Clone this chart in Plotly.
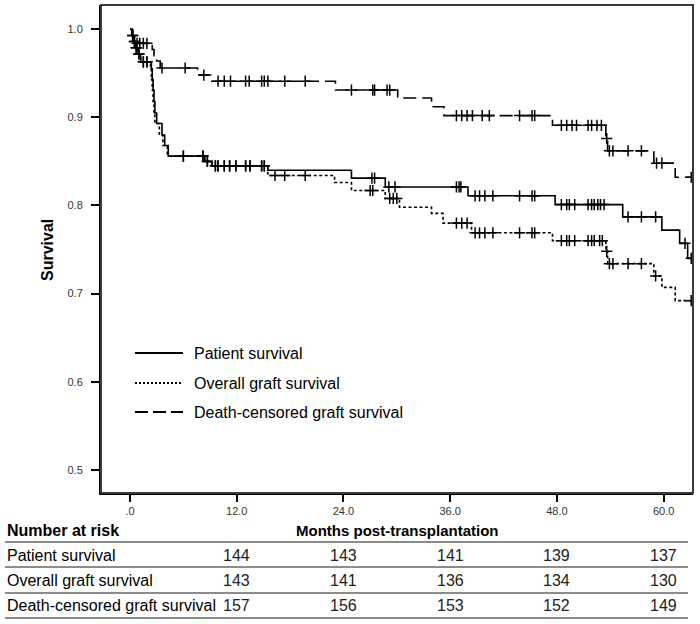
import numpy as np
import plotly.graph_objects as go

# ---------------- data ----------------
series_names = ["Patient survival", "Overall graft survival", "Death-censored graft survival"]

ps_times = [0.2, 0.4, 0.6, 0.9, 1.2, 2.4, 2.5, 2.6, 2.7, 2.8, 3.0, 3.6, 3.9, 4.3, 8.4, 9.2,
            15.5, 24.9, 28.7, 38.0, 47.8, 55.4, 59.8, 61.8, 62.7]
ps_surv = [0.993, 0.986, 0.979, 0.972, 0.963, 0.955, 0.943, 0.931, 0.918, 0.905, 0.893, 0.880,
           0.868, 0.856, 0.850, 0.845, 0.840, 0.831, 0.821, 0.811, 0.801, 0.787, 0.772, 0.757, 0.740]
ps_censor = [0.3, 0.5, 0.7, 1.0, 1.5, 1.9, 6.0, 8.2, 8.7, 9.6, 9.9, 10.6, 11.2, 11.9, 13.0, 13.5,
             14.8, 15.1, 27.2, 27.5, 29.1, 29.8, 36.7, 37.0, 37.2, 38.8, 39.3, 39.9, 40.8, 43.8,
             45.2, 45.5, 48.5, 49.1, 49.4, 50.0, 51.5, 51.9, 52.2, 52.6, 52.9, 53.3, 56.0, 57.5,
             59.1, 62.4, 63.1]

og_times = [0.2, 0.4, 0.6, 0.9, 1.2, 2.3, 2.4, 2.5, 2.6, 2.7, 2.8, 3.3, 3.7, 4.2, 8.4, 9.2,
            15.5, 23.0, 24.9, 28.7, 30.3, 33.9, 35.2, 38.4, 47.5, 53.5, 53.7, 58.9, 59.8, 61.3]
og_surv = [0.993, 0.986, 0.979, 0.972, 0.963, 0.955, 0.943, 0.931, 0.918, 0.905, 0.893, 0.880,
           0.868, 0.856, 0.850, 0.845, 0.834, 0.826, 0.817, 0.808, 0.798, 0.791, 0.780, 0.769,
           0.760, 0.748, 0.734, 0.720, 0.707, 0.692]
og_censor = [0.3, 0.5, 0.7, 1.0, 1.5, 1.9, 6.0, 8.2, 8.7, 9.6, 9.9, 10.6, 11.2, 11.9, 13.0, 13.5,
             14.8, 15.1, 16.3, 17.4, 19.7, 27.0, 27.3, 29.2, 29.6, 30.0, 36.7, 37.3, 37.9, 38.8,
             39.3, 39.9, 40.8, 43.8, 45.2, 45.5, 48.5, 49.1, 49.4, 50.0, 51.5, 51.9, 52.2, 52.8,
             53.1, 53.6, 53.9, 54.3, 56.0, 57.5, 59.1, 63.1]

dc_times = [0.3, 0.5, 2.5, 2.7, 3.0, 3.4, 7.6, 9.1, 23.1, 30.1, 33.9, 35.3, 47.5, 53.5, 53.7,
            58.9, 61.3]
dc_surv = [0.992, 0.984, 0.977, 0.970, 0.964, 0.956, 0.948, 0.941, 0.931, 0.922, 0.912, 0.902,
           0.891, 0.876, 0.862, 0.848, 0.832]
dc_censor = [0.8, 1.1, 1.5, 1.9, 3.6, 6.2, 8.3, 9.9, 10.6, 11.3, 13.0, 13.4, 14.8, 15.1, 15.5,
             17.4, 19.7, 24.9, 27.3, 27.5, 28.9, 29.2, 36.7, 37.3, 37.9, 38.5, 39.6, 40.4, 43.8,
             45.2, 45.5, 48.5, 49.1, 49.7, 50.2, 51.5, 51.9, 52.5, 53.0, 53.6, 53.9, 54.3, 56.0,
             57.5, 59.2, 59.8, 63.1]

follow_up_end = 63.2

x_tick_vals = [0, 12, 24, 36, 48, 60]
x_tick_text = [".0", "12.0", "24.0", "36.0", "48.0", "60.0"]
y_tick_vals = [0.5, 0.6, 0.7, 0.8, 0.9, 1.0]

risk_times = [12, 24, 36, 48, 60]
risk_ps = [144, 143, 141, 139, 137]
risk_og = [143, 141, 136, 134, 130]
risk_dc = [157, 156, 153, 152, 149]

# ---------------- helpers ----------------
def step_xy(times, surv, end):
    return [0.0] + list(times) + [end], [1.0] + list(surv) + [surv[-1]]

def censor_y(times, surv, cens):
    t = np.asarray(times)
    s = np.asarray(surv)
    out = []
    for c in cens:
        i = np.searchsorted(t, c, side="right")
        out.append(1.0 if i == 0 else float(s[i - 1]))
    return out

styles = {
    "Patient survival": "solid",
    "Overall graft survival": "3px,2.5px",
    "Death-censored graft survival": "13px,6px",
}
legend_dash = {
    "Patient survival": "solid",
    "Overall graft survival": "2px,2px",
    "Death-censored graft survival": "13px,5px",
}

fig = go.Figure()
series = [
    ("Patient survival", ps_times, ps_surv, ps_censor),
    ("Overall graft survival", og_times, og_surv, og_censor),
    ("Death-censored graft survival", dc_times, dc_surv, dc_censor),
]
for name, t, s, c in series:
    xs, ys = step_xy(t, s, follow_up_end)
    fig.add_trace(go.Scatter(x=xs, y=ys, mode="lines", line_shape="hv", name=name,
                             line=dict(color="black", width=1.6, dash=styles[name]),
                             showlegend=False))
    fig.add_trace(go.Scatter(x=c, y=censor_y(t, s, c), mode="markers", name=name + " censored",
                             marker=dict(symbol="cross-thin", size=8, color="black",
                                         line=dict(color="black", width=1.5)),
                             showlegend=False))

W, H = 700, 624
L, R, T, B = 101, 7, 5, 131
pw, ph = W - L - R, H - T - B

def px(xp):
    return (xp - L) / pw

def py(yp):
    return (T + ph - yp) / ph

fig.update_layout(
    width=W, height=H,
    margin=dict(l=L, r=R, t=T, b=B),
    paper_bgcolor="white", plot_bgcolor="white",
    font=dict(family="Liberation Sans, Arial, sans-serif", color="black"),
    xaxis=dict(range=[-3.26, 63.3], tickvals=x_tick_vals, ticktext=x_tick_text,
               showgrid=False, zeroline=False, showline=True, linecolor="black", linewidth=2,
               ticks="outside", ticklen=7, tickwidth=2, tickcolor="black",
               tickfont=dict(size=11, color="#333")),
    yaxis=dict(range=[0.4737, 1.0275], tickvals=y_tick_vals, tickformat=".1f",
               showgrid=False, zeroline=False, showline=True, linecolor="black", linewidth=2,
               ticks="outside", ticklen=8, tickwidth=1.5, tickcolor="black",
               ticklabelstandoff=6,
               tickfont=dict(size=11, color="#333")),
    showlegend=False,
)

shapes = []
# frame of the plotting area (top and right sides are thinner / greyer in the original)
shapes.append(dict(type="rect", xref="paper", yref="paper", x0=0, x1=1, y0=0, y1=1,
                   layer="above", line=dict(color="#3a3a3a", width=2), fillcolor="rgba(0,0,0,0)"))

annotations = []
# manual legend
legend_y = [353, 383, 412]
for name, yy in zip(series_names, legend_y):
    shapes.append(dict(type="line", xref="paper", yref="paper", x0=px(135), x1=px(183),
                       y0=py(yy), y1=py(yy),
                       line=dict(color="black", width=1.8, dash=legend_dash[name])))
    annotations.append(dict(xref="paper", yref="paper", x=px(192), y=py(yy), text=name,
                            showarrow=False, xanchor="left", yanchor="middle",
                            font=dict(size=16, color="black")))

# axis titles
annotations.append(dict(xref="paper", yref="paper", x=px(47), y=py(250), text="<b>Survival</b>",
                        textangle=-90, showarrow=False, xanchor="center", yanchor="middle",
                        font=dict(size=16, color="black")))
annotations.append(dict(xref="paper", yref="paper", x=px(397), y=py(530),
                        text="<b>Months post-transplantation</b>", showarrow=False,
                        xanchor="center", yanchor="middle", font=dict(size=15, color="black")))

# number at risk table
annotations.append(dict(xref="paper", yref="paper", x=px(5), y=py(530), text="<b>Number at risk</b>",
                        showarrow=False, xanchor="left", yanchor="middle",
                        font=dict(size=16, color="black")))
for yy in [542, 567, 593, 618]:
    shapes.append(dict(type="line", xref="paper", yref="paper", x0=px(5), x1=px(688),
                       y0=py(yy), y1=py(yy), line=dict(color="#666", width=1.6)))
row_y = [555, 580, 605]
for name, vals, yy in zip(series_names, [risk_ps, risk_og, risk_dc], row_y):
    annotations.append(dict(xref="paper", yref="paper", x=px(5), y=py(yy), text=name,
                            showarrow=False, xanchor="left", yanchor="middle",
                            font=dict(size=16, color="black")))
    for t, v in zip(risk_times, vals):
        annotations.append(dict(xref="x", yref="paper", x=t, y=py(yy), text=str(v),
                                showarrow=False, xanchor="center", yanchor="middle",
                                font=dict(family="Liberation Sans Narrow, Arial Narrow, Liberation Sans, Arial",
                                          size=16, color="#222")))

fig.update_layout(shapes=shapes, annotations=annotations)
fig.write_html("out.html",
               config={"displayModeBar": False},
               post_script="document.body.style.margin='0';document.body.style.overflow='hidden';")
